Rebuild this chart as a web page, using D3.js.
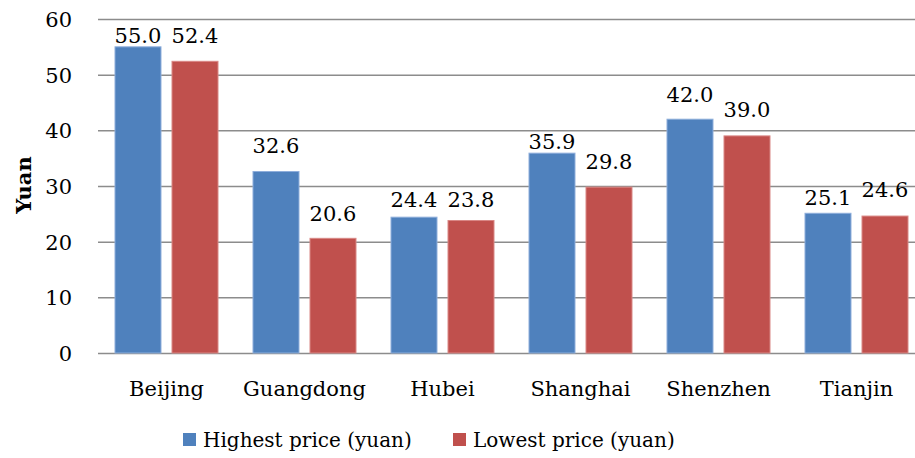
<!DOCTYPE html>
<html>
	<head>
		<script src="https://d3js.org/d3.v7.min.js" charset="utf-8"></script>
		<style>
			body { margin: 0; background: #fff; }
			text { font-family: "DejaVu Serif", serif; fill: #000; }
		</style>
	</head>

	<body>
		<svg id="chart" width="915" height="458"></svg>

		<script>
            // data
            const cities = ["Beijing", "Guangdong", "Hubei", "Shanghai", "Shenzhen", "Tianjin"];
            const seriesNames = ["Highest price (yuan)", "Lowest price (yuan)"];
            const highest = [55.0, 32.6, 24.4, 35.9, 42.0, 25.1];
            const lowest = [52.4, 20.6, 23.8, 29.8, 39.0, 24.6];
            const yTicks = [0, 10, 20, 30, 40, 50, 60];

            const colors = ["#4F81BD", "#C0504D"];
            const strokes = ["#8eaedb", "#d98886"];
            // labels in the original sit at different heights above their bars
            const labelGap = [[4, 19, 10, 4, 17, 8], [18, 17, 14, 18, 19, 19]];

            const svg = d3.select("#chart");
            const plotLeft = 98, plotRight = 915, plotTop = 19, plotBottom = 353;

            var x0 = d3.scaleBand()
                .domain(cities)
                .range([97.5, 925.5])
                .padding(0);
            var x1 = d3.scaleBand()
                .domain([0, 1])
                .range([17.5, 120.5])
                .paddingInner(0.193);
            var y = d3.scaleLinear()
                .domain([0, 60])
                .range([plotBottom, plotTop]);

            // gridlines + tick labels
            var yAxis = d3.axisLeft(y)
                .tickValues(yTicks)
                .tickSize(-(plotRight - plotLeft + 10))
                .tickPadding(26);
            var g = svg.append("g")
                .attr("transform", `translate(${plotLeft}, 0)`)
                .call(yAxis);
            g.select(".domain").remove();
            g.selectAll(".tick line")
                .attr("stroke", "#8c8c8c")
                .attr("stroke-width", 1.5);
            g.selectAll(".tick text")
                .attr("font-family", "DejaVu Serif")
                .attr("font-size", 21)
                .attr("fill", "#000")
                .attr("dy", "0.36em");

            // axis title
            svg.append("text")
                .attr("transform", "translate(31, 185) rotate(-90)")
                .style("text-anchor", "middle")
                .style("font-size", "21px")
                .style("font-weight", "bold")
                .text("Yuan");

            const rows = cities.map((c, i) => ({city: c, i: i, vals: [highest[i], lowest[i]]}));

            var groups = svg.selectAll("g.city")
                .data(rows)
                .enter()
                .append("g")
                .attr("class", "city")
                .attr("transform", d => `translate(${x0(d.city)}, 0)`);

            groups.selectAll("rect")
                .data(d => d.vals.map((v, s) => ({v: v, s: s, i: d.i})))
                .enter()
                .append("rect")
                .attr("x", d => x1(d.s))
                .attr("width", x1.bandwidth())
                .attr("y", d => y(d.v))
                .attr("height", d => plotBottom - y(d.v))
                .attr("fill", d => colors[d.s])
                .attr("stroke", d => strokes[d.s])
                .attr("stroke-width", 1);

            groups.selectAll("text.val")
                .data(d => d.vals.map((v, s) => ({v: v, s: s, i: d.i})))
                .enter()
                .append("text")
                .attr("class", "val")
                .attr("x", d => x1(d.s) + x1.bandwidth() / 2)
                .attr("y", d => y(d.v) - labelGap[d.s][d.i])
                .style("text-anchor", "middle")
                .style("font-size", "21px")
                .text(d => d.v.toFixed(1));

            // category labels
            svg.selectAll("text.cat")
                .data(cities)
                .enter()
                .append("text")
                .attr("class", "cat")
                .attr("x", d => x0(d) + x0.bandwidth() / 2)
                .attr("y", 396)
                .style("text-anchor", "middle")
                .style("font-size", "21px")
                .text(d => d);

            // legend
            const legendX = [183, 453];
            var leg = svg.selectAll("g.legend")
                .data(seriesNames)
                .enter()
                .append("g")
                .attr("class", "legend")
                .attr("transform", (d, i) => `translate(${legendX[i]}, 433)`);
            leg.append("rect")
                .attr("width", 13)
                .attr("height", 13)
                .attr("fill", (d, i) => colors[i]);
            leg.append("text")
                .attr("x", 20)
                .attr("y", 14)
                .style("font-size", "20px")
                .text(d => d);
		</script>
	</body>
</html>
